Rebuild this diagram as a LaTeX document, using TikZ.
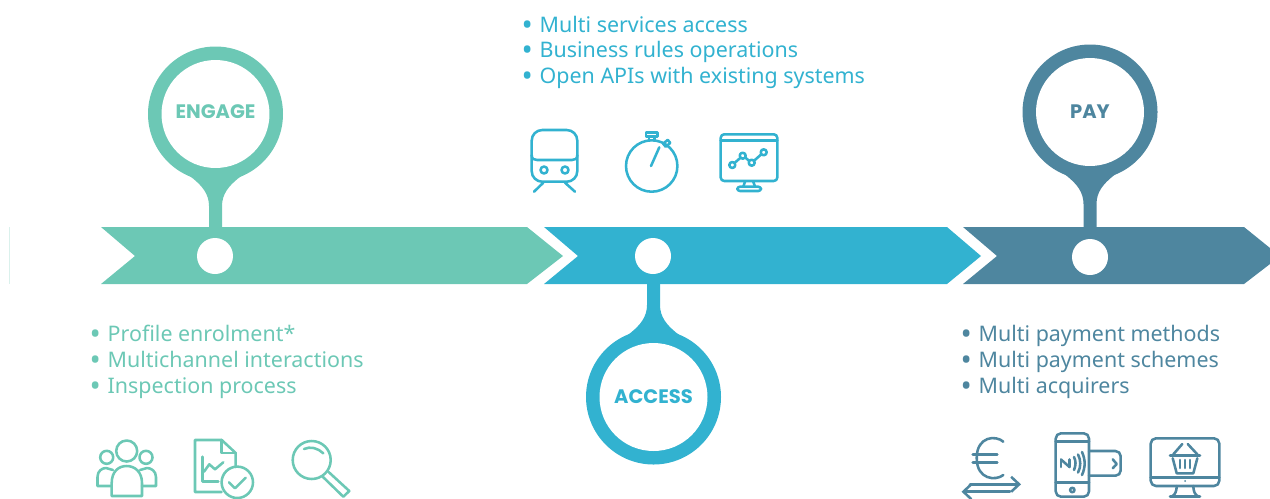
\documentclass[tikz,border=0pt]{standalone}
\usepackage{fontspec}
\setmainfont{Noto Sans}
\newfontfamily\labelfont{Poppins}
\usetikzlibrary{arrows.meta}
\definecolor{engagecolor}{HTML}{6CC8B5}
\definecolor{accesscolor}{HTML}{32B2D0}
\definecolor{paycolor}{HTML}{4E869F}
\newcommand{\itemmark}{\makebox[9.3pt][l]{\hspace*{-1pt}\raisebox{-2pt}{\scalebox{1.4}{\textbullet}}}}
\newcommand{\pinbody}[4]{%
\begin{scope}[shift={(#2,#3)},yscale=#4]
\fill[#1] (0,0) circle (67.5);
\fill[#1] (-52,40) .. controls (-34,60) and (-6.5,68) .. (-6.5,92) -- (-6.5,118) -- (6.5,118) -- (6.5,92) .. controls (6.5,68) and (34,60) .. (52,40) -- cycle;
\end{scope}}
\tikzset{
  pinlabel/.style={circle,fill=white,minimum size=2.16cm,inner sep=0pt,font=\labelfont\bfseries\fontsize{11.1}{13}\selectfont},
  hole/.style={circle,fill=white,minimum size=0.72cm,inner sep=0pt},
  listitem/.style={anchor=base west,inner sep=0pt,font=\fontsize{12.2}{14}\selectfont},
  icon/.style={line width=1.45pt,line join=round,line cap=round}
}
\begin{document}
\begin{tikzpicture}[x=0.02cm,y=-0.02cm]
\useasboundingbox (0,0) rectangle (1270,498);
\draw[engagecolor!25,line width=0.3pt] (9,227) -- (9,284);
%bars
\fill[engagecolor] (101,227) -- (527,227) -- (563,256) -- (527,284) -- (101,284) -- (135,256) -- cycle;
\fill[accesscolor] (544,227) -- (947,227) -- (981,256) -- (947,284) -- (544,284) -- (578,256) -- cycle;
\fill[paycolor] (963,227) -- (1244,227) -- (1270,248) -- (1270,264) -- (1244,284) -- (963,284) -- (997,256) -- cycle;
%pins
\pinbody{engagecolor}{215.5}{114}{1}
\pinbody{accesscolor}{653.5}{397}{-1}
\pinbody{paycolor}{1090}{112}{1}
\node[pinlabel,text=engagecolor] (engage) at (215.5,114) {\raisebox{2.4pt}{ENGAGE}};
\node[pinlabel,text=accesscolor] (access) at (653.5,397) {\raisebox{-1.2pt}{ACCESS}};
\node[pinlabel,text=paycolor] (pay) at (1090,112) {PAY};
\node[hole] (engagehole) at (215,256) {};
\node[hole] (accesshole) at (653,256) {};
\node[hole] (payhole) at (1090,257) {};
%lists
\node[listitem,text=accesscolor] (access1) at (523,32) {\itemmark Multi services access};
\node[listitem,text=accesscolor] (access2) at (523,57) {\itemmark Business rules operations};
\node[listitem,text=accesscolor] (access3) at (523,83) {\itemmark Open APIs with existing systems};
\node[listitem,text=engagecolor] (engage1) at (91,341) {\itemmark Profile enrolment*};
\node[listitem,text=engagecolor] (engage2) at (91,367) {\itemmark Multichannel interactions};
\node[listitem,text=engagecolor] (engage3) at (91,393) {\itemmark Inspection process};
\node[listitem,text=paycolor] (pay1) at (962,341) {\itemmark Multi payment methods};
\node[listitem,text=paycolor] (pay2) at (962,367) {\itemmark Multi payment schemes};
\node[listitem,text=paycolor] (pay3) at (962,393) {\itemmark Multi acquirers};
%people
\begin{scope}[icon,draw=engagecolor]
\draw (126.7,451) circle (10.5);
\draw (106.7,457.3) circle (6.5);
\draw (146,457.3) circle (6.5);
\draw (111.7,496) -- (111.7,483) .. controls (111.7,472) and (118,466) .. (126.7,466) .. controls (135,466) and (142,472) .. (142,483) -- (142,496) -- cycle;
\draw (111.7,486) -- (97.5,486) -- (97.5,477) .. controls (97.5,471) and (102,468) .. (106,468) -- (113,470);
\draw (142,486) -- (156,486) -- (156,477) .. controls (156,471) and (151,468) .. (147,468) -- (140,470);
\end{scope}
%report
\begin{scope}[icon,draw=engagecolor]
\draw (235.7,467) -- (235.7,453) -- (221.7,440) -- (195,440) -- (195,492) -- (221.7,492);
\draw (221.7,440) -- (221.7,453) -- (235.7,453);
\draw (202.3,456.7) -- (202.3,481.7) -- (218.3,481.7);
\draw (204,471.7) -- (209.3,464.3) -- (215,469.3) -- (223.3,462.3);
\draw (237.3,482.3) circle (15.7);
\draw (229,482.3) -- (235,488.3) -- (245.7,477.7);
\end{scope}
%magnifier
\begin{scope}[icon,draw=engagecolor]
\draw (311.7,460) circle (19);
\draw (304,449) .. controls (310,446) and (318,448) .. (323.3,453.3);
\draw (322.7,476.7) -- (343.3,496.7) -- (349.3,491) -- (328.3,471.7);
\end{scope}
%train
\begin{scope}[icon,draw=accesscolor]
\draw[rounded corners=6] (531.7,130) rectangle (577.3,181.7);
\draw (531.7,155) .. controls (531.7,159) and (534,160) .. (537,160) -- (572,160) .. controls (575,160) and (577.3,159) .. (577.3,155);
\draw (544,170) circle (3.5);
\draw (565,170) circle (3.5);
\draw (543.3,182.7) -- (534,191.7);
\draw (565,182.7) -- (575,191.7);
\end{scope}
%stopwatch
\begin{scope}[icon,draw=accesscolor]
\draw (651.7,166) circle (25.7);
\draw (651,166) -- (659.3,147.3);
\draw (646,132.7) rectangle (657.7,136.7);
\draw (649,136.7) -- (649,140.5);
\draw (654.5,136.7) -- (654.5,140.5);
\draw[rotate around={40:(666.7,143.3)}] (663.7,141.3) rectangle (669.7,145.3);
\end{scope}
%chart monitor
\begin{scope}[icon,draw=accesscolor]
\draw[rounded corners=2] (720.7,134.3) rectangle (777.3,181);
\draw (720.7,140.7) -- (777.3,140.7);
\draw (745,181.7) -- (743.3,186.7);
\draw (753.3,181.7) -- (755,186.7);
\draw[rounded corners=1.5] (737.3,186.7) rectangle (761,191);
\draw (732.3,165) circle (3);
\draw (742.7,155.7) circle (3);
\draw (751.7,162.7) circle (3);
\draw (763.7,152.3) circle (3);
\draw (734.5,163) -- (740.5,157.7);
\draw (745.2,157.5) -- (749.2,160.9);
\draw (754,160.8) -- (761.4,154.2);
\end{scope}
%euro
\begin{scope}[icon,draw=paycolor]
\draw (1003.3,441.7) .. controls (996,435) and (976.7,436) .. (976.7,458) .. controls (976.7,480) and (996,481) .. (1003.3,475);
\draw (972.7,454.3) -- (997.3,454.3);
\draw (972.7,462.3) -- (997.3,462.3);
\draw[-{Straight Barb[length=1.6mm,width=3mm]}] (970,484.3) -- (1021,484.3);
\draw[-{Straight Barb[length=1.6mm,width=3mm]}] (1010,491.7) -- (961.5,491.7);
\end{scope}
%phone
\begin{scope}[icon,draw=paycolor]
\draw[rounded corners=3] (1055.7,433.3) rectangle (1089,496.7);
\draw (1055.7,441.7) -- (1089,441.7);
\draw (1055.7,482.3) -- (1089,482.3);
\draw (1072.3,490) circle (2.2);
\draw[rounded corners=3] (1089,451) -- (1120.7,451) -- (1120.7,475.7) -- (1089,475.7);
\draw (1112.7,459.3) -- (1116.7,464) -- (1112.7,468.3);
\draw (1061,459.5) -- (1061,467);
\draw (1061,459.5) -- (1069.5,467);
\draw (1069.5,459.5) -- (1069.5,467);
\draw (1074,457) .. controls (1076,461) and (1076,465) .. (1074,470);
\draw (1078,454.5) .. controls (1081,460) and (1081,467) .. (1078,472.5);
\draw (1082,452) .. controls (1085.5,460) and (1085.5,467) .. (1082,475);
\end{scope}
%basket monitor
\begin{scope}[icon,draw=paycolor]
\draw[rounded corners=3] (1150.7,438.3) rectangle (1219.3,486);
\draw (1150.7,477.7) -- (1219.3,477.7);
\fill[paycolor] (1185,481) circle (1);
\draw (1176.7,486) .. controls (1176.7,491) and (1175,495) .. (1172,496.3);
\draw (1193.3,486) .. controls (1193.3,491) and (1195,495) .. (1198,496.3);
\draw (1170,496.3) -- (1200,496.3);
\draw (1170,455.5) -- (1200,455.5);
\draw (1172.7,458.3) -- (1176.7,473.3) -- (1193.3,473.3) -- (1197.3,458.3);
\draw (1180,460) -- (1180,468);
\draw (1185,460) -- (1185,468);
\draw (1190,460) -- (1190,468);
\draw (1173.3,454.3) -- (1182.3,444);
\draw (1187.7,444) -- (1197.3,454.3);
\end{scope}
\end{tikzpicture}
\end{document}
